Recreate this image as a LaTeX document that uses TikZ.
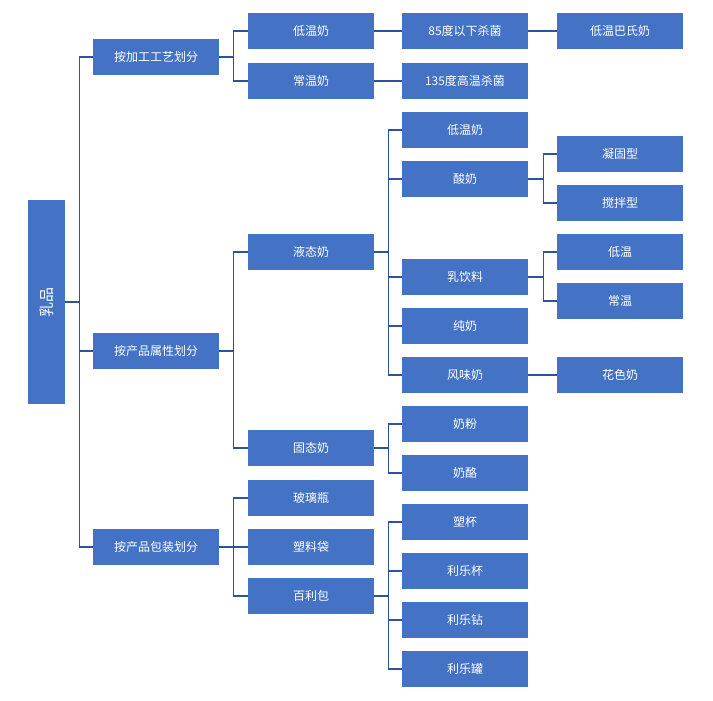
\documentclass[tikz,border=0pt]{standalone}
\usepackage{fontspec}
\setmainfont{Noto Sans CJK SC}
\begin{document}
\begin{tikzpicture}[x=1pt,y=-1pt,
 b/.style={draw=none,fill={rgb,255:red,68;green,114;blue,196},text=white,minimum width=126pt,minimum height=36pt,inner sep=0pt,font=\fontsize{12}{14}\selectfont},
 ln/.style={draw={rgb,255:red,47;green,82;blue,160},line width=1.3pt}]
\useasboundingbox (0,0) rectangle (713,701);
\node[b,minimum width=37pt,minimum height=204pt] (r) at (46.5,302) {};
\node[text=white,rotate=90,font=\fontsize{15}{17}\selectfont] (rt) at (46.5,302) {乳品};
\node[b] (a1) at (156,57) {按加工工艺划分};
\node[b] (a2) at (156,351) {按产品属性划分};
\node[b] (a3) at (156,547) {按产品包装划分};
\node[b] (b1) at (311,31) {低温奶};
\node[b] (b2) at (311,81) {常温奶};
\node[b] (b3) at (311,252) {液态奶};
\node[b] (b4) at (311,448) {固态奶};
\node[b] (b5) at (311,498) {玻璃瓶};
\node[b] (b6) at (311,547) {塑料袋};
\node[b] (b7) at (311,596) {百利包};
\node[b] (c1) at (465,31) {85度以下杀菌};
\node[b] (c2) at (465,81) {135度高温杀菌};
\node[b] (c3) at (465,130) {低温奶};
\node[b] (c4) at (465,179) {酸奶};
\node[b] (c5) at (465,277) {乳饮料};
\node[b] (c6) at (465,326) {纯奶};
\node[b] (c7) at (465,375) {风味奶};
\node[b] (c8) at (465,424) {奶粉};
\node[b] (c9) at (465,473) {奶酪};
\node[b] (c10) at (465,522) {塑杯};
\node[b] (c11) at (465,571) {利乐杯};
\node[b] (c12) at (465,620) {利乐钻};
\node[b] (c13) at (465,669) {利乐罐};
\node[b] (d1) at (620,31) {低温巴氏奶};
\node[b] (d2) at (620,154) {凝固型};
\node[b] (d3) at (620,203) {搅拌型};
\node[b] (d4) at (620,252) {低温};
\node[b] (d5) at (620,301) {常温};
\node[b] (d6) at (620,375) {花色奶};
\foreach \p/\cs in {r/{a1,a2,a3},a1/{b1,b2},a2/{b3,b4},a3/{b5,b6,b7},b3/{c3,c4,c5,c6,c7},b4/{c8,c9},b7/{c10,c11,c12,c13}}
 \foreach \c in \cs \draw[ln] (\p.east) -- ([xshift=14pt]\p.east) |- (\c.west);
\foreach \p/\cs in {c4/{d2,d3},c5/{d4,d5}}
 \foreach \c in \cs \draw[ln] (\p.east) -- ([xshift=15pt]\p.east) |- (\c.west);
\draw[ln] (b1) -- (c1); \draw[ln] (b2) -- (c2);
\draw[ln] (c1) -- (d1); \draw[ln] (c7) -- (d6);
\end{tikzpicture}
\end{document}
